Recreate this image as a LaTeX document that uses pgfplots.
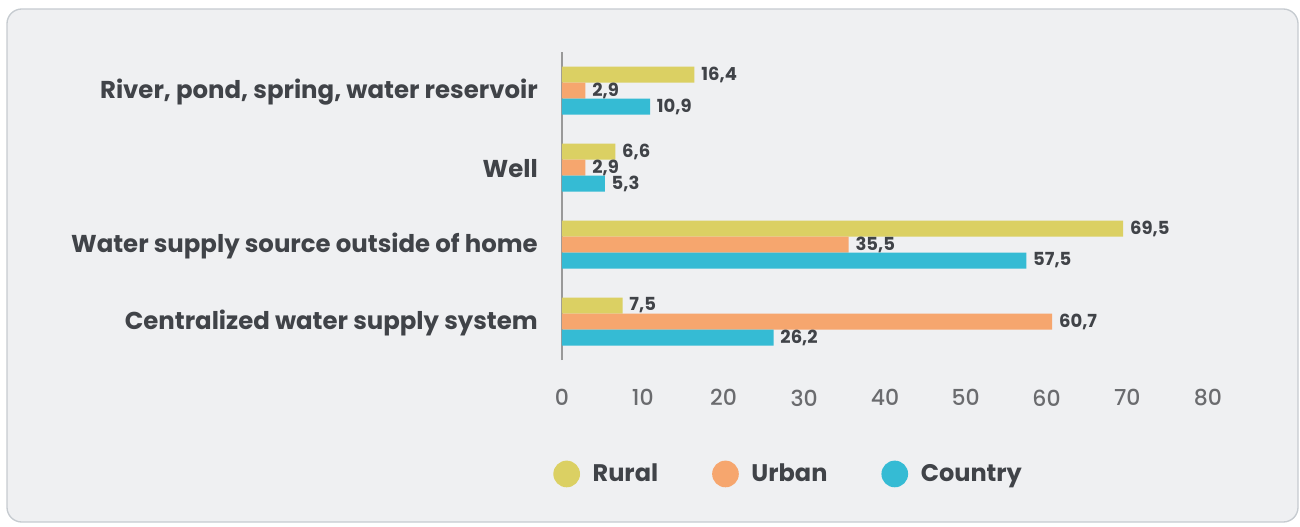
\documentclass[border=0pt]{standalone}
\usepackage{fontspec}
\setmainfont{Poppins}
\newfontfamily\pmed{Poppins Medium}
\usepackage{pgfplots}
\pgfplotsset{compat=1.18}
\definecolor{rural}{HTML}{DBD063}
\definecolor{urban}{HTML}{F6A66E}
\definecolor{country}{HTML}{35BBD4}
\definecolor{bg}{HTML}{EFF0F2}
\definecolor{bordercol}{HTML}{C6CBD0}
\definecolor{txt}{HTML}{404348}
\definecolor{tickc}{HTML}{6A6B6E}
\begin{document}
\begin{tikzpicture}
\useasboundingbox (0pt,0pt) rectangle (975pt,394.5pt);
\draw[draw=bordercol, line width=1pt, fill=bg, rounded corners=11pt] (5.25pt,3pt) rectangle (973.5pt,387.75pt);
\begin{axis}[at={(421.5pt,124.5pt)}, anchor=south west, scale only axis,
  width=484.5pt, height=231pt,
  xmin=0, xmax=80, ymin=-0.5, ymax=3.5,
  xbar, bar width=12pt, clip=false,
  axis lines*=left,
  x axis line style={draw=none},
  y axis line style={draw=gray!80, line width=0.8pt},
  major tick length=0pt,
  xtick={0,10,...,80},
  ytick={0,1,2,3},
  yticklabels={Centralized water supply system, Water supply source outside of home, Well, {River, pond, spring, water reservoir}},
  yticklabel style={font=\bfseries\fontsize{18.3}{19}\selectfont, color=txt, anchor=east, inner sep=0pt, xshift=-18pt, yshift=-1pt},
  xticklabel style={font=\pmed\fontsize{16.5}{17}\selectfont, color=tickc, anchor=north, inner sep=0pt, yshift=-22pt},
  /pgf/number format/assume math mode=true,
  point meta=x,
  nodes near coords={\pgfmathprintnumber[use comma,fixed,fixed zerofill,precision=1,assume math mode=true]{\pgfplotspointmeta}},
  nodes near coords style={font=\bfseries\fontsize{13.5}{14}\selectfont, color=txt, anchor=west, inner sep=0pt, xshift=5pt},
  legend columns=3,
  legend image code/.code={\fill[#1, draw=none] (0pt,0pt) circle (10pt); \path (17.5pt,0pt);},
  legend style={draw=none, fill=none, at={(rel axis cs:-0.02,-0.37)}, anchor=west,
    font=\bfseries\fontsize{18}{19}\selectfont, text=txt,
    /tikz/every even column/.append style={column sep=38.5pt}},
]
\addplot[fill=rural, draw=none, bar shift=12pt] coordinates {(7.5,0) (69.5,1) (6.6,2) (16.4,3)};
\addplot[fill=urban, draw=none, bar shift=0pt] coordinates {(60.7,0) (35.5,1) (2.9,2) (2.9,3)};
\addplot[fill=country, draw=none, bar shift=-12pt] coordinates {(26.2,0) (57.5,1) (5.3,2) (10.9,3)};
\legend{Rural, Urban, Country}
\end{axis}
\end{tikzpicture}
\end{document}
